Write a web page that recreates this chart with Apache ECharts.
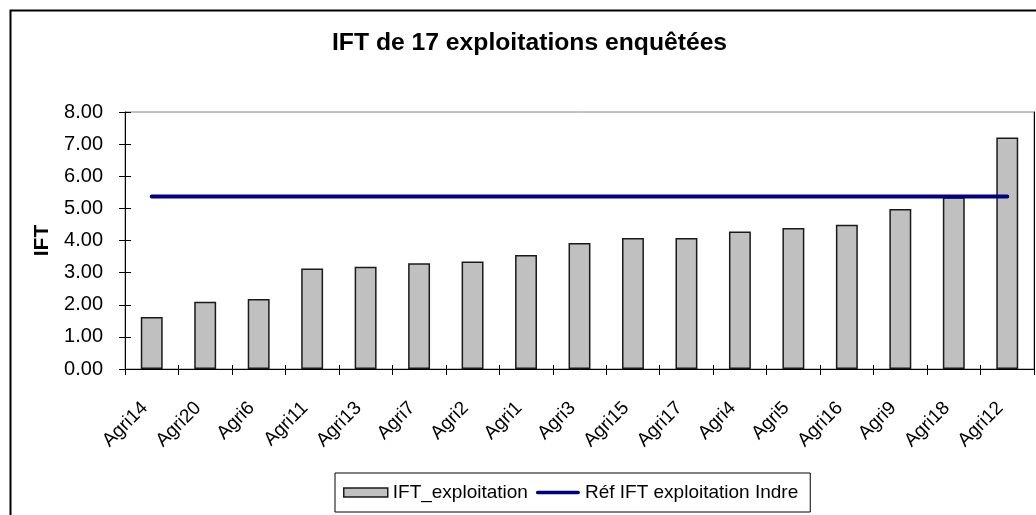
<!DOCTYPE html>
<html>
<head>
<meta charset="utf-8">
<script src="https://cdn.jsdelivr.net/npm/echarts@6/dist/echarts.min.js"></script>
<style>
html,body{margin:0;padding:0;background:#fff;}
#c{width:1036px;height:515px;}
</style>
</head>
<body>
<div id="c"></div>
<script>
const categories = ['Agri14','Agri20','Agri6','Agri11','Agri13','Agri7','Agri2','Agri1','Agri3','Agri15','Agri17','Agri4','Agri5','Agri16','Agri9','Agri18','Agri12'];
const iftValues = [1.62,2.09,2.18,3.13,3.18,3.29,3.35,3.55,3.92,4.08,4.08,4.28,4.39,4.49,4.98,5.35,7.21];
const refValue = 5.37;
const refValues = categories.map(() => refValue);
const yMin = 0, yMax = 8, yInterval = 1;

const FONT = 'Liberation Sans, Arial, sans-serif';
const LINE_ICON = 'path://M0,0 L0,0 M0,2.5 L46,2.5 A2,2 0 0 1 46,6.5 L1,6.5 A2,2 0 0 1 1,2.5 Z M0,9 L0,9';
const chart = echarts.init(document.getElementById('c'), null, {renderer:'canvas'});
chart.setOption({
  animation: false,
  backgroundColor: '#fff',
  textStyle: {fontFamily: FONT, color: '#000'},
  graphic: [{
    type: 'rect', left: 8, top: 8,
    shape: {width: 1040, height: 520},
    style: {fill: 'none', stroke: '#000', lineWidth: 2}
  }],
  title: {
    text: 'IFT de 17 exploitations enquêtées',
    left: 327, top: 26,
    textStyle: {fontFamily: FONT, fontSize: 24.7, fontWeight: 'bold', color: '#000'}
  },
  grid: {left: 125, right: 2, top: 112, bottom: 146, show: true, borderColor: '#808080', borderWidth: 1, containLabel: false},
  legend: {
    left: 335, top: 473,
    padding: [10, 12, 10, 8],
    itemGap: 8,
    itemWidth: 44, itemHeight: 9,
    borderColor: '#000', borderWidth: 1,
    textStyle: {fontFamily: FONT, fontSize: 19, color: '#000'},
    data: [
      {name: 'IFT_exploitation', icon: 'rect', itemStyle: {color: '#C0C0C0', borderColor: '#1a1a1a', borderWidth: 1.5}},
      {name: 'Réf IFT exploitation Indre', icon: LINE_ICON, itemStyle: {color: '#000080', borderWidth: 0}}
    ]
  },
  xAxis: [{
    type: 'category', data: categories,
    axisLine: {lineStyle: {color: '#000', width: 1}},
    axisTick: {show: true, length: 6, lineStyle: {color: '#000'}},
    axisLabel: {rotate: 45, fontSize: 19, color: '#000', fontFamily: FONT, margin: 29, interval: 0, padding: [0, 10, 0, 0]}
  }, {
    type: 'category', data: categories, position: 'bottom',
    axisLine: {show: false},
    axisTick: {show: true, inside: true, length: 4, lineStyle: {color: '#000'}},
    axisLabel: {show: false}
  }],
  yAxis: [{
    type: 'value', min: yMin, max: yMax, interval: yInterval,
    name: 'IFT', nameLocation: 'middle', nameGap: 68, nameRotate: 90,
    nameTextStyle: {fontFamily: FONT, fontSize: 21, fontWeight: 'bold', color: '#000'},
    axisLine: {show: true, lineStyle: {color: '#000', width: 1}},
    axisTick: {show: true, length: 6, lineStyle: {color: '#000'}},
    splitLine: {show: false},
    axisLabel: {fontSize: 20, color: '#000', fontFamily: FONT, margin: 22, formatter: v => v.toFixed(2)}
  }, {
    type: 'value', min: yMin, max: yMax, interval: yInterval, position: 'right',
    axisLine: {show: true, lineStyle: {color: '#000', width: 1}},
    axisTick: {show: false}, axisLabel: {show: false}, splitLine: {show: false}
  }, {
    type: 'value', min: yMin, max: yMax, interval: yInterval, position: 'left',
    axisLine: {show: false},
    axisTick: {show: true, inside: true, length: 6, lineStyle: {color: '#000'}},
    axisLabel: {show: false}, splitLine: {show: false}
  }],
  series: [{
    name: 'IFT_exploitation', type: 'bar', data: iftValues,
    barWidth: '41%',
    itemStyle: {color: '#C0C0C0', borderColor: '#1a1a1a', borderWidth: 1.5}
  }, {
    name: 'Réf IFT exploitation Indre', type: 'line', data: refValues,
    symbol: 'none', showSymbol: false,
    lineStyle: {color: '#000080', width: 4, cap: 'round'},
    itemStyle: {color: '#000080'}
  }]
});
</script>
</body>
</html>
